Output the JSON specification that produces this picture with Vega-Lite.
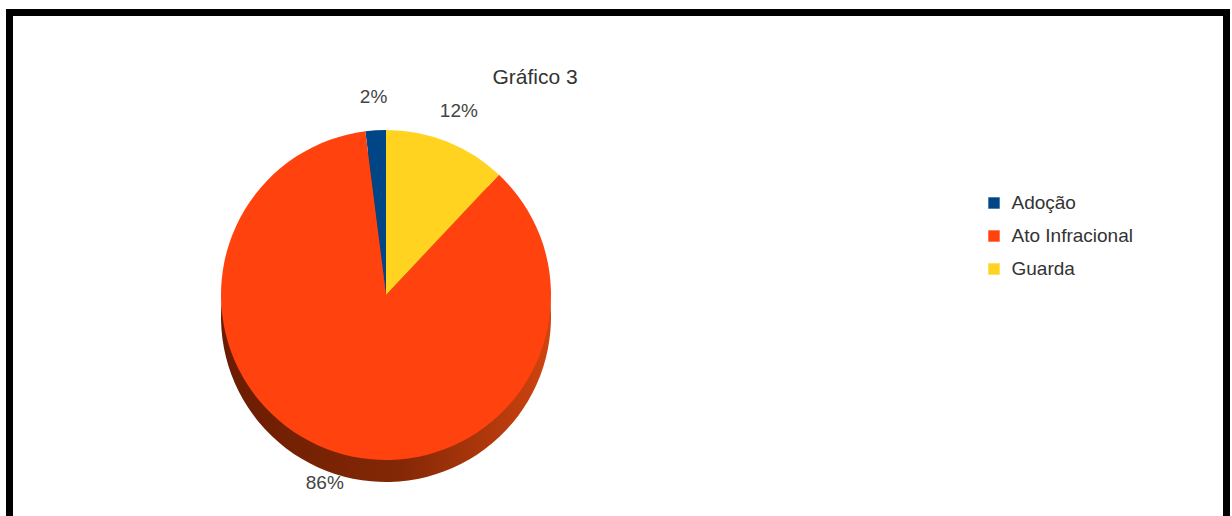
{
  "$schema": "https://vega.github.io/schema/vega-lite/v6.json",
  "autosize": "none",
  "width": 1217,
  "height": 510,
  "padding": {"left": 9.5, "top": 12.5, "right": 5.5, "bottom": 0},
  "background": "white",
  "view": {"stroke": "black", "strokeWidth": 7, "fill": "white"},
  "title": {
    "text": "Gráfico 3",
    "font": "Liberation Sans",
    "fontSize": 21,
    "fontWeight": "normal",
    "color": "#333333",
    "anchor": "middle",
    "dx": -83,
    "baseline": "alphabetic",
    "offset": -92
  },
  "data": {
    "values": [
      {"Categoria": "Adoção", "Percentual": 2, "Rotulo": "2%"},
      {"Categoria": "Ato Infracional", "Percentual": 86, "Rotulo": "86%"},
      {"Categoria": "Guarda", "Percentual": 12, "Rotulo": "12%"}
    ]
  },
  "encoding": {
    "theta": {"field": "Percentual", "type": "quantitative", "stack": true},
    "order": {"field": "Categoria", "sort": "descending"}
  },
  "layer": [
    {
      "mark": {
        "type": "arc",
        "x": 376.5,
        "y": 282.5,
        "yOffset": 22,
        "radius": 165,
        "color": {
          "gradient": "linear",
          "x1": 0, "x2": 1, "y1": 0, "y2": 0,
          "stops": [
            {"offset": 0, "color": "#6a1c02"},
            {"offset": 0.55, "color": "#842806"},
            {"offset": 1, "color": "#d0440f"}
          ]
        }
      }
    },
    {
      "mark": {"type": "arc", "x": 376.5, "y": 282.5, "radius": 165},
      "encoding": {
        "color": {
          "field": "Categoria",
          "type": "nominal",
          "scale": {
            "domain": ["Adoção", "Ato Infracional", "Guarda"],
            "range": ["#004586", "#ff420e", "#ffd320"]
          },
          "legend": {
            "title": null,
            "orient": "none",
            "legendX": 975,
            "legendY": 181,
            "symbolType": "square",
            "symbolSize": 130,
            "symbolStrokeWidth": 0,
            "labelFont": "Liberation Sans",
            "labelFontSize": 19,
            "labelColor": "#333333",
            "rowPadding": 13,
            "labelOffset": 8
          }
        }
      }
    },
    {
      "mark": {
        "type": "text",
        "x": 376.5,
        "y": 282.5,
        "radius": 198,
        "font": "Liberation Sans",
        "fontSize": 19,
        "color": "#444444"
      },
      "encoding": {
        "text": {"field": "Rotulo", "type": "nominal"}
      }
    }
  ]
}
